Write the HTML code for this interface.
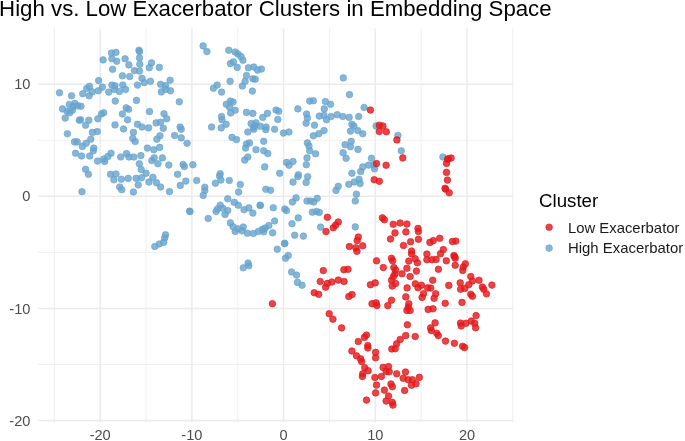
<!DOCTYPE html>
<html><head><meta charset="utf-8"><style>
*{margin:0;padding:0;box-sizing:border-box}
html,body{width:685px;height:441px;background:#fff;overflow:hidden}
body{position:relative;font-family:"Liberation Sans",sans-serif}
svg{position:absolute;left:0;top:0;font-family:"Liberation Sans",sans-serif}
</style></head><body>
<svg width="685" height="441" viewBox="0 0 685 441">
<line x1="54.35" y1="28.4" x2="54.35" y2="422.5" stroke="#EBEBEB" stroke-width="0.8"/><line x1="146.05" y1="28.4" x2="146.05" y2="422.5" stroke="#EBEBEB" stroke-width="0.8"/><line x1="237.75" y1="28.4" x2="237.75" y2="422.5" stroke="#EBEBEB" stroke-width="0.8"/><line x1="329.45" y1="28.4" x2="329.45" y2="422.5" stroke="#EBEBEB" stroke-width="0.8"/><line x1="421.15" y1="28.4" x2="421.15" y2="422.5" stroke="#EBEBEB" stroke-width="0.8"/><line x1="512.85" y1="28.4" x2="512.85" y2="422.5" stroke="#EBEBEB" stroke-width="0.8"/><line x1="38.2" y1="140.24" x2="513.0" y2="140.24" stroke="#EBEBEB" stroke-width="0.8"/><line x1="38.2" y1="252.37" x2="513.0" y2="252.37" stroke="#EBEBEB" stroke-width="0.8"/><line x1="38.2" y1="364.50" x2="513.0" y2="364.50" stroke="#EBEBEB" stroke-width="0.8"/><line x1="100.20" y1="28.4" x2="100.20" y2="422.5" stroke="#EBEBEB" stroke-width="1.5"/><line x1="191.90" y1="28.4" x2="191.90" y2="422.5" stroke="#EBEBEB" stroke-width="1.5"/><line x1="283.60" y1="28.4" x2="283.60" y2="422.5" stroke="#EBEBEB" stroke-width="1.5"/><line x1="375.30" y1="28.4" x2="375.30" y2="422.5" stroke="#EBEBEB" stroke-width="1.5"/><line x1="467.00" y1="28.4" x2="467.00" y2="422.5" stroke="#EBEBEB" stroke-width="1.5"/><line x1="38.2" y1="84.17" x2="513.0" y2="84.17" stroke="#EBEBEB" stroke-width="1.5"/><line x1="38.2" y1="196.30" x2="513.0" y2="196.30" stroke="#EBEBEB" stroke-width="1.5"/><line x1="38.2" y1="308.43" x2="513.0" y2="308.43" stroke="#EBEBEB" stroke-width="1.5"/><line x1="38.2" y1="420.56" x2="513.0" y2="420.56" stroke="#EBEBEB" stroke-width="1.5"/>
<g fill="#66A4CE" fill-opacity="0.8" stroke="#66A4CE" stroke-opacity="0.8" stroke-width="0.8"><circle cx="75.6" cy="153.3" r="3.3"/><circle cx="81.6" cy="156.0" r="3.3"/><circle cx="89.7" cy="156.0" r="3.3"/><circle cx="97.6" cy="161.1" r="3.3"/><circle cx="103.7" cy="159.0" r="3.3"/><circle cx="104.7" cy="161.5" r="3.3"/><circle cx="107.8" cy="156.6" r="3.3"/><circle cx="111.0" cy="153.3" r="3.3"/><circle cx="120.7" cy="157.0" r="3.3"/><circle cx="126.5" cy="153.6" r="3.3"/><circle cx="128.9" cy="157.0" r="3.3"/><circle cx="133.8" cy="157.0" r="3.3"/><circle cx="140.9" cy="155.6" r="3.3"/><circle cx="139.3" cy="163.8" r="3.3"/><circle cx="141.2" cy="169.6" r="3.3"/><circle cx="146.1" cy="173.3" r="3.3"/><circle cx="136.1" cy="178.3" r="3.3"/><circle cx="141.6" cy="177.8" r="3.3"/><circle cx="138.2" cy="184.9" r="3.3"/><circle cx="152.9" cy="177.4" r="3.3"/><circle cx="149.0" cy="182.1" r="3.3"/><circle cx="156.5" cy="182.8" r="3.3"/><circle cx="154.2" cy="157.7" r="3.3"/><circle cx="151.8" cy="160.6" r="3.3"/><circle cx="157.9" cy="163.8" r="3.3"/><circle cx="162.4" cy="157.9" r="3.3"/><circle cx="168.8" cy="165.1" r="3.3"/><circle cx="183.1" cy="164.5" r="3.3"/><circle cx="184.4" cy="166.5" r="3.3"/><circle cx="192.9" cy="164.7" r="3.3"/><circle cx="177.6" cy="174.3" r="3.3"/><circle cx="185.8" cy="181.1" r="3.3"/><circle cx="196.7" cy="180.5" r="3.3"/><circle cx="180.3" cy="185.4" r="3.3"/><circle cx="133.4" cy="192.0" r="3.3"/><circle cx="160.6" cy="187.0" r="3.3"/><circle cx="169.5" cy="191.6" r="3.3"/><circle cx="204.8" cy="187.2" r="3.3"/><circle cx="204.8" cy="190.6" r="3.3"/><circle cx="203.2" cy="195.4" r="3.3"/><circle cx="189.6" cy="211.1" r="3.3"/><circle cx="208.2" cy="218.5" r="3.3"/><circle cx="247.8" cy="157.0" r="3.3"/><circle cx="244.7" cy="160.1" r="3.3"/><circle cx="264.7" cy="166.9" r="3.3"/><circle cx="279.7" cy="173.3" r="3.3"/><circle cx="286.6" cy="162.4" r="3.3"/><circle cx="220.2" cy="173.7" r="3.3"/><circle cx="219.5" cy="176.0" r="3.3"/><circle cx="220.9" cy="180.1" r="3.3"/><circle cx="215.4" cy="183.2" r="3.3"/><circle cx="229.3" cy="180.5" r="3.3"/><circle cx="240.3" cy="184.5" r="3.3"/><circle cx="238.6" cy="192.0" r="3.3"/><circle cx="265.8" cy="189.3" r="3.3"/><circle cx="270.5" cy="190.2" r="3.3"/><circle cx="227.7" cy="198.8" r="3.3"/><circle cx="234.2" cy="202.2" r="3.3"/><circle cx="238.3" cy="205.2" r="3.3"/><circle cx="220.2" cy="205.2" r="3.3"/><circle cx="217.5" cy="209.0" r="3.3"/><circle cx="216.1" cy="211.5" r="3.3"/><circle cx="222.9" cy="208.3" r="3.3"/><circle cx="227.7" cy="210.6" r="3.3"/><circle cx="225.0" cy="214.5" r="3.3"/><circle cx="244.0" cy="209.7" r="3.3"/><circle cx="248.8" cy="207.9" r="3.3"/><circle cx="252.9" cy="213.1" r="3.3"/><circle cx="260.1" cy="205.2" r="3.3"/><circle cx="273.3" cy="207.7" r="3.3"/><circle cx="284.8" cy="209.0" r="3.3"/><circle cx="286.5" cy="210.6" r="3.3"/><circle cx="274.6" cy="221.0" r="3.3"/><circle cx="230.4" cy="222.9" r="3.3"/><circle cx="233.1" cy="226.7" r="3.3"/><circle cx="237.9" cy="228.7" r="3.3"/><circle cx="243.3" cy="227.0" r="3.3"/><circle cx="235.2" cy="231.5" r="3.3"/><circle cx="242.0" cy="230.8" r="3.3"/><circle cx="263.7" cy="231.8" r="3.3"/><circle cx="284.6" cy="243.3" r="3.3"/><circle cx="277.3" cy="249.2" r="3.3"/><circle cx="285.5" cy="258.3" r="3.3"/><circle cx="288.2" cy="255.6" r="3.3"/><circle cx="248.1" cy="263.1" r="3.3"/><circle cx="248.8" cy="265.8" r="3.3"/><circle cx="243.3" cy="267.8" r="3.3"/><circle cx="165.6" cy="234.8" r="3.3"/><circle cx="164.7" cy="237.9" r="3.3"/><circle cx="163.7" cy="242.4" r="3.3"/><circle cx="159.3" cy="244.0" r="3.3"/><circle cx="154.8" cy="246.5" r="3.3"/><circle cx="307.0" cy="157.9" r="3.3"/><circle cx="306.3" cy="164.7" r="3.3"/><circle cx="293.0" cy="161.5" r="3.3"/><circle cx="346.1" cy="158.3" r="3.3"/><circle cx="298.4" cy="174.7" r="3.3"/><circle cx="297.9" cy="176.7" r="3.3"/><circle cx="307.7" cy="176.7" r="3.3"/><circle cx="351.9" cy="173.3" r="3.3"/><circle cx="360.7" cy="171.5" r="3.3"/><circle cx="362.8" cy="166.9" r="3.3"/><circle cx="368.6" cy="165.1" r="3.3"/><circle cx="338.3" cy="186.3" r="3.3"/><circle cx="336.0" cy="190.4" r="3.3"/><circle cx="348.8" cy="184.3" r="3.3"/><circle cx="354.2" cy="182.0" r="3.3"/><circle cx="359.1" cy="179.3" r="3.3"/><circle cx="360.1" cy="183.6" r="3.3"/><circle cx="356.4" cy="194.2" r="3.3"/><circle cx="355.3" cy="201.0" r="3.3"/><circle cx="296.1" cy="197.9" r="3.3"/><circle cx="292.4" cy="202.0" r="3.3"/><circle cx="307.0" cy="201.0" r="3.3"/><circle cx="310.4" cy="201.0" r="3.3"/><circle cx="313.8" cy="202.0" r="3.3"/><circle cx="317.2" cy="198.3" r="3.3"/><circle cx="312.4" cy="212.2" r="3.3"/><circle cx="316.5" cy="211.5" r="3.3"/><circle cx="319.3" cy="212.4" r="3.3"/><circle cx="298.2" cy="217.9" r="3.3"/><circle cx="292.0" cy="223.7" r="3.3"/><circle cx="320.6" cy="227.1" r="3.3"/><circle cx="355.3" cy="226.9" r="3.3"/><circle cx="294.7" cy="235.2" r="3.3"/><circle cx="303.4" cy="236.1" r="3.3"/><circle cx="291.6" cy="272.0" r="3.3"/><circle cx="296.6" cy="275.1" r="3.3"/><circle cx="371.5" cy="158.2" r="3.3"/><circle cx="373.8" cy="165.0" r="3.3"/><circle cx="374.5" cy="168.8" r="3.3"/><circle cx="442.9" cy="157.0" r="3.3"/><circle cx="297.5" cy="282.4" r="3.3"/><circle cx="302.0" cy="285.2" r="3.3"/><circle cx="71.6" cy="95.8" r="3.3"/><circle cx="89.1" cy="95.8" r="3.3"/><circle cx="190.0" cy="211.6" r="3.3"/><circle cx="247.4" cy="233.2" r="3.3"/><circle cx="253.3" cy="233.5" r="3.3"/><circle cx="258.3" cy="231.5" r="3.3"/><circle cx="262.4" cy="229.4" r="3.3"/><circle cx="265.1" cy="228.1" r="3.3"/><circle cx="268.8" cy="225.6" r="3.3"/><circle cx="272.6" cy="232.8" r="3.3"/><circle cx="293.0" cy="182.1" r="3.3"/><circle cx="306.1" cy="182.4" r="3.3"/><circle cx="289.0" cy="165.2" r="3.3"/><circle cx="284.8" cy="243.6" r="3.3"/><circle cx="260.3" cy="205.5" r="3.3"/><circle cx="103.1" cy="59.9" r="3.3"/><circle cx="111.5" cy="53.1" r="3.3"/><circle cx="115.9" cy="52.4" r="3.3"/><circle cx="111.9" cy="58.8" r="3.3"/><circle cx="116.7" cy="61.3" r="3.3"/><circle cx="125.1" cy="58.8" r="3.3"/><circle cx="128.9" cy="64.9" r="3.3"/><circle cx="112.6" cy="69.3" r="3.3"/><circle cx="122.4" cy="75.8" r="3.3"/><circle cx="129.6" cy="76.5" r="3.3"/><circle cx="98.6" cy="80.6" r="3.3"/><circle cx="89.5" cy="86.4" r="3.3"/><circle cx="86.7" cy="88.5" r="3.3"/><circle cx="102.4" cy="87.1" r="3.3"/><circle cx="111.9" cy="85.1" r="3.3"/><circle cx="115.0" cy="85.7" r="3.3"/><circle cx="122.8" cy="85.1" r="3.3"/><circle cx="125.5" cy="89.4" r="3.3"/><circle cx="59.5" cy="92.8" r="3.3"/><circle cx="82.7" cy="93.8" r="3.3"/><circle cx="92.2" cy="91.9" r="3.3"/><circle cx="98.3" cy="90.8" r="3.3"/><circle cx="108.8" cy="92.1" r="3.3"/><circle cx="114.2" cy="89.4" r="3.3"/><circle cx="119.4" cy="91.5" r="3.3"/><circle cx="139.0" cy="50.2" r="3.3"/><circle cx="139.5" cy="51.6" r="3.3"/><circle cx="139.5" cy="57.9" r="3.3"/><circle cx="139.8" cy="64.3" r="3.3"/><circle cx="134.4" cy="70.6" r="3.3"/><circle cx="139.5" cy="71.1" r="3.3"/><circle cx="151.5" cy="62.9" r="3.3"/><circle cx="149.3" cy="67.7" r="3.3"/><circle cx="159.3" cy="67.4" r="3.3"/><circle cx="142.0" cy="78.3" r="3.3"/><circle cx="144.3" cy="82.6" r="3.3"/><circle cx="150.4" cy="81.3" r="3.3"/><circle cx="137.5" cy="85.1" r="3.3"/><circle cx="170.1" cy="80.2" r="3.3"/><circle cx="160.6" cy="84.3" r="3.3"/><circle cx="165.6" cy="85.6" r="3.3"/><circle cx="165.6" cy="89.4" r="3.3"/><circle cx="161.3" cy="91.9" r="3.3"/><circle cx="170.5" cy="90.8" r="3.3"/><circle cx="203.1" cy="45.9" r="3.3"/><circle cx="206.9" cy="51.6" r="3.3"/><circle cx="228.8" cy="50.2" r="3.3"/><circle cx="235.2" cy="52.0" r="3.3"/><circle cx="237.9" cy="54.0" r="3.3"/><circle cx="241.0" cy="56.5" r="3.3"/><circle cx="242.9" cy="60.2" r="3.3"/><circle cx="233.4" cy="61.9" r="3.3"/><circle cx="230.4" cy="63.6" r="3.3"/><circle cx="237.2" cy="67.4" r="3.3"/><circle cx="248.4" cy="67.7" r="3.3"/><circle cx="253.8" cy="67.0" r="3.3"/><circle cx="257.6" cy="70.1" r="3.3"/><circle cx="261.4" cy="69.0" r="3.3"/><circle cx="246.5" cy="75.5" r="3.3"/><circle cx="252.9" cy="78.8" r="3.3"/><circle cx="255.2" cy="79.2" r="3.3"/><circle cx="245.1" cy="81.3" r="3.3"/><circle cx="230.1" cy="81.3" r="3.3"/><circle cx="242.4" cy="86.0" r="3.3"/><circle cx="217.1" cy="85.1" r="3.3"/><circle cx="213.4" cy="88.3" r="3.3"/><circle cx="221.6" cy="92.1" r="3.3"/><circle cx="252.4" cy="91.1" r="3.3"/><circle cx="343.3" cy="77.9" r="3.3"/><circle cx="349.5" cy="94.6" r="3.3"/><circle cx="115.3" cy="101.1" r="3.3"/><circle cx="62.5" cy="108.9" r="3.3"/><circle cx="69.3" cy="104.5" r="3.3"/><circle cx="74.8" cy="103.4" r="3.3"/><circle cx="73.1" cy="106.6" r="3.3"/><circle cx="77.9" cy="105.9" r="3.3"/><circle cx="81.0" cy="106.2" r="3.3"/><circle cx="67.0" cy="111.3" r="3.3"/><circle cx="69.7" cy="112.7" r="3.3"/><circle cx="72.4" cy="110.2" r="3.3"/><circle cx="65.2" cy="118.1" r="3.3"/><circle cx="79.3" cy="120.2" r="3.3"/><circle cx="80.6" cy="119.8" r="3.3"/><circle cx="88.8" cy="120.2" r="3.3"/><circle cx="85.6" cy="125.2" r="3.3"/><circle cx="97.9" cy="118.8" r="3.3"/><circle cx="101.4" cy="114.0" r="3.3"/><circle cx="103.7" cy="112.7" r="3.3"/><circle cx="122.4" cy="114.0" r="3.3"/><circle cx="126.2" cy="107.9" r="3.3"/><circle cx="128.6" cy="109.3" r="3.3"/><circle cx="127.6" cy="119.8" r="3.3"/><circle cx="115.0" cy="124.9" r="3.3"/><circle cx="123.5" cy="129.0" r="3.3"/><circle cx="67.4" cy="133.8" r="3.3"/><circle cx="92.4" cy="132.4" r="3.3"/><circle cx="97.3" cy="131.5" r="3.3"/><circle cx="90.8" cy="139.2" r="3.3"/><circle cx="74.5" cy="141.9" r="3.3"/><circle cx="77.2" cy="141.9" r="3.3"/><circle cx="86.1" cy="143.3" r="3.3"/><circle cx="82.4" cy="146.4" r="3.3"/><circle cx="93.8" cy="148.1" r="3.3"/><circle cx="93.3" cy="150.8" r="3.3"/><circle cx="136.5" cy="100.4" r="3.3"/><circle cx="179.3" cy="101.8" r="3.3"/><circle cx="149.5" cy="111.6" r="3.3"/><circle cx="164.0" cy="113.8" r="3.3"/><circle cx="166.7" cy="118.8" r="3.3"/><circle cx="156.1" cy="122.9" r="3.3"/><circle cx="160.6" cy="122.2" r="3.3"/><circle cx="163.3" cy="128.3" r="3.3"/><circle cx="180.1" cy="127.0" r="3.3"/><circle cx="181.2" cy="129.3" r="3.3"/><circle cx="137.5" cy="124.3" r="3.3"/><circle cx="142.0" cy="127.0" r="3.3"/><circle cx="148.6" cy="127.9" r="3.3"/><circle cx="133.4" cy="132.4" r="3.3"/><circle cx="132.7" cy="138.5" r="3.3"/><circle cx="135.2" cy="141.5" r="3.3"/><circle cx="159.9" cy="135.8" r="3.3"/><circle cx="156.9" cy="139.2" r="3.3"/><circle cx="174.6" cy="135.5" r="3.3"/><circle cx="181.2" cy="137.9" r="3.3"/><circle cx="187.1" cy="143.3" r="3.3"/><circle cx="147.4" cy="148.1" r="3.3"/><circle cx="153.8" cy="149.7" r="3.3"/><circle cx="159.7" cy="147.4" r="3.3"/><circle cx="226.3" cy="104.3" r="3.3"/><circle cx="230.4" cy="101.1" r="3.3"/><circle cx="233.1" cy="102.1" r="3.3"/><circle cx="229.7" cy="107.5" r="3.3"/><circle cx="235.2" cy="110.2" r="3.3"/><circle cx="230.7" cy="113.0" r="3.3"/><circle cx="221.6" cy="116.5" r="3.3"/><circle cx="222.0" cy="119.8" r="3.3"/><circle cx="226.1" cy="124.3" r="3.3"/><circle cx="221.2" cy="127.9" r="3.3"/><circle cx="211.6" cy="127.0" r="3.3"/><circle cx="246.5" cy="112.4" r="3.3"/><circle cx="252.9" cy="113.4" r="3.3"/><circle cx="262.8" cy="117.4" r="3.3"/><circle cx="267.4" cy="113.4" r="3.3"/><circle cx="276.0" cy="110.0" r="3.3"/><circle cx="278.7" cy="111.3" r="3.3"/><circle cx="277.8" cy="119.5" r="3.3"/><circle cx="251.1" cy="123.6" r="3.3"/><circle cx="256.0" cy="122.9" r="3.3"/><circle cx="253.5" cy="127.4" r="3.3"/><circle cx="254.9" cy="125.6" r="3.3"/><circle cx="260.3" cy="126.3" r="3.3"/><circle cx="253.8" cy="129.3" r="3.3"/><circle cx="266.1" cy="127.0" r="3.3"/><circle cx="265.8" cy="129.7" r="3.3"/><circle cx="274.6" cy="129.3" r="3.3"/><circle cx="283.5" cy="133.1" r="3.3"/><circle cx="288.9" cy="132.0" r="3.3"/><circle cx="247.8" cy="132.0" r="3.3"/><circle cx="232.0" cy="137.4" r="3.3"/><circle cx="236.5" cy="139.6" r="3.3"/><circle cx="246.5" cy="144.0" r="3.3"/><circle cx="249.5" cy="142.9" r="3.3"/><circle cx="245.6" cy="148.1" r="3.3"/><circle cx="263.7" cy="141.3" r="3.3"/><circle cx="256.0" cy="149.7" r="3.3"/><circle cx="263.7" cy="150.8" r="3.3"/><circle cx="267.8" cy="153.5" r="3.3"/><circle cx="309.7" cy="101.1" r="3.3"/><circle cx="313.4" cy="100.7" r="3.3"/><circle cx="325.4" cy="101.5" r="3.3"/><circle cx="330.5" cy="104.3" r="3.3"/><circle cx="297.9" cy="108.9" r="3.3"/><circle cx="324.3" cy="108.9" r="3.3"/><circle cx="364.1" cy="107.5" r="3.3"/><circle cx="306.6" cy="114.0" r="3.3"/><circle cx="307.4" cy="118.1" r="3.3"/><circle cx="306.1" cy="123.3" r="3.3"/><circle cx="319.3" cy="116.1" r="3.3"/><circle cx="324.0" cy="115.4" r="3.3"/><circle cx="326.5" cy="119.8" r="3.3"/><circle cx="331.1" cy="116.5" r="3.3"/><circle cx="337.3" cy="114.7" r="3.3"/><circle cx="342.8" cy="116.5" r="3.3"/><circle cx="349.2" cy="117.4" r="3.3"/><circle cx="358.7" cy="116.5" r="3.3"/><circle cx="314.5" cy="125.2" r="3.3"/><circle cx="351.9" cy="124.3" r="3.3"/><circle cx="353.9" cy="126.0" r="3.3"/><circle cx="324.0" cy="130.6" r="3.3"/><circle cx="318.8" cy="133.8" r="3.3"/><circle cx="313.4" cy="135.8" r="3.3"/><circle cx="350.5" cy="131.1" r="3.3"/><circle cx="357.8" cy="130.6" r="3.3"/><circle cx="362.8" cy="133.8" r="3.3"/><circle cx="307.4" cy="142.9" r="3.3"/><circle cx="309.0" cy="146.0" r="3.3"/><circle cx="309.7" cy="150.8" r="3.3"/><circle cx="315.6" cy="153.8" r="3.3"/><circle cx="345.1" cy="144.7" r="3.3"/><circle cx="351.2" cy="141.3" r="3.3"/><circle cx="350.5" cy="146.7" r="3.3"/><circle cx="358.0" cy="149.4" r="3.3"/><circle cx="343.1" cy="152.8" r="3.3"/><circle cx="376.1" cy="126.0" r="3.3"/><circle cx="397.9" cy="135.5" r="3.3"/><circle cx="401.3" cy="150.8" r="3.3"/><circle cx="85.6" cy="169.3" r="3.3"/><circle cx="88.4" cy="174.3" r="3.3"/><circle cx="110.5" cy="174.3" r="3.3"/><circle cx="116.0" cy="174.0" r="3.3"/><circle cx="113.9" cy="179.8" r="3.3"/><circle cx="121.4" cy="179.2" r="3.3"/><circle cx="128.2" cy="178.4" r="3.3"/><circle cx="119.7" cy="187.0" r="3.3"/><circle cx="121.8" cy="189.7" r="3.3"/><circle cx="82.0" cy="191.7" r="3.3"/></g>
<g fill="#E41A1C" fill-opacity="0.82" stroke="#E41A1C" stroke-opacity="0.82" stroke-width="0.8"><circle cx="327.4" cy="217.3" r="3.3"/><circle cx="338.3" cy="222.0" r="3.3"/><circle cx="335.6" cy="225.1" r="3.3"/><circle cx="333.3" cy="227.8" r="3.3"/><circle cx="326.0" cy="231.6" r="3.3"/><circle cx="323.3" cy="270.6" r="3.3"/><circle cx="343.9" cy="269.7" r="3.3"/><circle cx="348.0" cy="269.3" r="3.3"/><circle cx="349.4" cy="246.5" r="3.3"/><circle cx="376.5" cy="163.6" r="3.3"/><circle cx="386.1" cy="165.2" r="3.3"/><circle cx="402.8" cy="157.9" r="3.3"/><circle cx="374.2" cy="179.7" r="3.3"/><circle cx="379.3" cy="181.3" r="3.3"/><circle cx="447.8" cy="159.3" r="3.3"/><circle cx="451.1" cy="158.0" r="3.3"/><circle cx="446.5" cy="163.4" r="3.3"/><circle cx="446.5" cy="172.4" r="3.3"/><circle cx="447.4" cy="180.1" r="3.3"/><circle cx="445.1" cy="188.3" r="3.3"/><circle cx="449.2" cy="192.8" r="3.3"/><circle cx="358.3" cy="237.0" r="3.3"/><circle cx="357.2" cy="240.6" r="3.3"/><circle cx="362.7" cy="245.8" r="3.3"/><circle cx="355.9" cy="247.9" r="3.3"/><circle cx="356.9" cy="251.3" r="3.3"/><circle cx="382.4" cy="217.9" r="3.3"/><circle cx="384.4" cy="219.7" r="3.3"/><circle cx="393.3" cy="224.3" r="3.3"/><circle cx="400.1" cy="223.0" r="3.3"/><circle cx="406.9" cy="224.0" r="3.3"/><circle cx="395.0" cy="232.9" r="3.3"/><circle cx="405.9" cy="231.9" r="3.3"/><circle cx="390.5" cy="239.0" r="3.3"/><circle cx="403.5" cy="245.5" r="3.3"/><circle cx="376.5" cy="260.8" r="3.3"/><circle cx="391.5" cy="258.3" r="3.3"/><circle cx="392.6" cy="260.8" r="3.3"/><circle cx="418.0" cy="228.4" r="3.3"/><circle cx="418.4" cy="231.5" r="3.3"/><circle cx="410.6" cy="241.7" r="3.3"/><circle cx="418.4" cy="239.3" r="3.3"/><circle cx="411.6" cy="251.0" r="3.3"/><circle cx="411.6" cy="254.0" r="3.3"/><circle cx="429.9" cy="242.4" r="3.3"/><circle cx="433.3" cy="240.6" r="3.3"/><circle cx="439.7" cy="238.3" r="3.3"/><circle cx="452.4" cy="241.5" r="3.3"/><circle cx="455.8" cy="241.1" r="3.3"/><circle cx="443.3" cy="249.6" r="3.3"/><circle cx="440.5" cy="253.7" r="3.3"/><circle cx="426.9" cy="254.0" r="3.3"/><circle cx="426.9" cy="259.7" r="3.3"/><circle cx="432.0" cy="259.7" r="3.3"/><circle cx="436.1" cy="259.4" r="3.3"/><circle cx="453.9" cy="255.6" r="3.3"/><circle cx="454.7" cy="256.7" r="3.3"/><circle cx="455.2" cy="258.3" r="3.3"/><circle cx="446.3" cy="260.8" r="3.3"/><circle cx="408.8" cy="261.1" r="3.3"/><circle cx="415.2" cy="258.7" r="3.3"/><circle cx="417.4" cy="262.8" r="3.3"/><circle cx="465.3" cy="263.8" r="3.3"/><circle cx="455.2" cy="265.2" r="3.3"/><circle cx="463.3" cy="267.0" r="3.3"/><circle cx="462.7" cy="270.4" r="3.3"/><circle cx="438.4" cy="269.3" r="3.3"/><circle cx="432.7" cy="280.2" r="3.3"/><circle cx="448.8" cy="285.4" r="3.3"/><circle cx="460.2" cy="282.9" r="3.3"/><circle cx="460.6" cy="289.2" r="3.3"/><circle cx="464.7" cy="288.4" r="3.3"/><circle cx="470.8" cy="276.5" r="3.3"/><circle cx="472.4" cy="281.0" r="3.3"/><circle cx="468.8" cy="284.7" r="3.3"/><circle cx="479.0" cy="280.2" r="3.3"/><circle cx="482.4" cy="287.0" r="3.3"/><circle cx="483.7" cy="289.2" r="3.3"/><circle cx="491.9" cy="285.1" r="3.3"/><circle cx="486.5" cy="293.8" r="3.3"/><circle cx="470.8" cy="294.2" r="3.3"/><circle cx="472.4" cy="296.3" r="3.3"/><circle cx="435.7" cy="293.8" r="3.3"/><circle cx="434.1" cy="298.3" r="3.3"/><circle cx="430.7" cy="288.1" r="3.3"/><circle cx="445.2" cy="303.3" r="3.3"/><circle cx="462.0" cy="302.4" r="3.3"/><circle cx="433.0" cy="308.8" r="3.3"/><circle cx="383.3" cy="267.5" r="3.3"/><circle cx="393.8" cy="267.5" r="3.3"/><circle cx="395.6" cy="270.0" r="3.3"/><circle cx="394.9" cy="274.0" r="3.3"/><circle cx="393.3" cy="276.8" r="3.3"/><circle cx="391.5" cy="280.2" r="3.3"/><circle cx="395.6" cy="283.6" r="3.3"/><circle cx="392.2" cy="286.0" r="3.3"/><circle cx="402.0" cy="273.8" r="3.3"/><circle cx="406.9" cy="268.3" r="3.3"/><circle cx="416.4" cy="271.1" r="3.3"/><circle cx="410.1" cy="276.5" r="3.3"/><circle cx="415.3" cy="283.8" r="3.3"/><circle cx="418.0" cy="287.7" r="3.3"/><circle cx="421.4" cy="285.2" r="3.3"/><circle cx="427.6" cy="287.9" r="3.3"/><circle cx="407.1" cy="287.9" r="3.3"/><circle cx="370.4" cy="284.7" r="3.3"/><circle cx="375.2" cy="282.9" r="3.3"/><circle cx="352.0" cy="294.5" r="3.3"/><circle cx="423.5" cy="293.8" r="3.3"/><circle cx="422.1" cy="297.4" r="3.3"/><circle cx="405.8" cy="296.9" r="3.3"/><circle cx="391.5" cy="300.2" r="3.3"/><circle cx="387.8" cy="305.6" r="3.3"/><circle cx="372.0" cy="303.7" r="3.3"/><circle cx="376.1" cy="302.9" r="3.3"/><circle cx="376.9" cy="305.6" r="3.3"/><circle cx="408.8" cy="303.7" r="3.3"/><circle cx="408.2" cy="307.4" r="3.3"/><circle cx="406.9" cy="310.5" r="3.3"/><circle cx="410.1" cy="310.5" r="3.3"/><circle cx="428.2" cy="309.4" r="3.3"/><circle cx="320.2" cy="281.5" r="3.3"/><circle cx="327.4" cy="283.4" r="3.3"/><circle cx="325.6" cy="287.2" r="3.3"/><circle cx="331.9" cy="282.0" r="3.3"/><circle cx="338.3" cy="280.1" r="3.3"/><circle cx="344.1" cy="281.5" r="3.3"/><circle cx="314.2" cy="292.7" r="3.3"/><circle cx="318.6" cy="294.3" r="3.3"/><circle cx="348.8" cy="296.5" r="3.3"/><circle cx="329.2" cy="313.7" r="3.3"/><circle cx="332.9" cy="319.2" r="3.3"/><circle cx="272.4" cy="303.7" r="3.3"/><circle cx="341.6" cy="327.9" r="3.3"/><circle cx="366.5" cy="335.1" r="3.3"/><circle cx="364.4" cy="337.4" r="3.3"/><circle cx="358.3" cy="341.5" r="3.3"/><circle cx="367.8" cy="345.6" r="3.3"/><circle cx="367.8" cy="347.9" r="3.3"/><circle cx="351.9" cy="351.0" r="3.3"/><circle cx="375.6" cy="352.4" r="3.3"/><circle cx="375.6" cy="357.8" r="3.3"/><circle cx="356.5" cy="355.8" r="3.3"/><circle cx="360.6" cy="358.8" r="3.3"/><circle cx="407.4" cy="324.8" r="3.3"/><circle cx="405.7" cy="335.6" r="3.3"/><circle cx="415.2" cy="336.5" r="3.3"/><circle cx="400.2" cy="339.5" r="3.3"/><circle cx="396.6" cy="343.8" r="3.3"/><circle cx="391.8" cy="349.0" r="3.3"/><circle cx="395.2" cy="348.7" r="3.3"/><circle cx="435.1" cy="322.9" r="3.3"/><circle cx="430.6" cy="327.9" r="3.3"/><circle cx="431.3" cy="330.6" r="3.3"/><circle cx="436.7" cy="333.3" r="3.3"/><circle cx="438.3" cy="335.6" r="3.3"/><circle cx="445.5" cy="341.1" r="3.3"/><circle cx="454.4" cy="343.3" r="3.3"/><circle cx="460.5" cy="323.1" r="3.3"/><circle cx="461.2" cy="325.9" r="3.3"/><circle cx="462.6" cy="346.3" r="3.3"/><circle cx="476.1" cy="315.6" r="3.3"/><circle cx="465.9" cy="323.3" r="3.3"/><circle cx="471.3" cy="321.0" r="3.3"/><circle cx="474.7" cy="323.3" r="3.3"/><circle cx="475.6" cy="327.8" r="3.3"/><circle cx="361.6" cy="361.6" r="3.3"/><circle cx="364.7" cy="367.7" r="3.3"/><circle cx="368.1" cy="370.7" r="3.3"/><circle cx="362.7" cy="373.8" r="3.3"/><circle cx="362.4" cy="376.5" r="3.3"/><circle cx="374.9" cy="377.5" r="3.3"/><circle cx="381.4" cy="376.5" r="3.3"/><circle cx="383.1" cy="367.4" r="3.3"/><circle cx="388.5" cy="366.6" r="3.3"/><circle cx="386.1" cy="371.5" r="3.3"/><circle cx="389.2" cy="371.8" r="3.3"/><circle cx="396.7" cy="373.8" r="3.3"/><circle cx="405.5" cy="372.0" r="3.3"/><circle cx="403.2" cy="378.3" r="3.3"/><circle cx="408.2" cy="379.7" r="3.3"/><circle cx="376.5" cy="385.1" r="3.3"/><circle cx="391.0" cy="384.0" r="3.3"/><circle cx="392.3" cy="386.7" r="3.3"/><circle cx="404.6" cy="390.5" r="3.3"/><circle cx="384.4" cy="390.1" r="3.3"/><circle cx="375.6" cy="392.9" r="3.3"/><circle cx="388.5" cy="396.0" r="3.3"/><circle cx="366.5" cy="400.1" r="3.3"/><circle cx="386.1" cy="401.0" r="3.3"/><circle cx="392.3" cy="402.4" r="3.3"/><circle cx="392.9" cy="405.1" r="3.3"/><circle cx="412.4" cy="379.7" r="3.3"/><circle cx="411.5" cy="385.2" r="3.3"/><circle cx="416.0" cy="383.8" r="3.3"/><circle cx="419.3" cy="377.4" r="3.3"/><circle cx="464.6" cy="347.6" r="3.3"/><circle cx="448.0" cy="158.8" r="3.3"/><circle cx="445.6" cy="189.2" r="3.3"/><circle cx="370.4" cy="110.0" r="3.3"/><circle cx="379.3" cy="125.2" r="3.3"/><circle cx="382.9" cy="126.0" r="3.3"/><circle cx="379.3" cy="131.5" r="3.3"/><circle cx="386.3" cy="131.7" r="3.3"/><circle cx="396.9" cy="139.9" r="3.3"/></g>
<g stroke-width="0.8" fill-opacity="0.8" stroke-opacity="0.8">
<circle cx="549.1" cy="227.2" r="3.3" fill="#E41A1C" stroke="#E41A1C" fill-opacity="0.82" stroke-opacity="0.82"/>
<circle cx="549.1" cy="248.1" r="3.3" fill="#66A4CE" stroke="#66A4CE"/>
</g>
<g style="filter:grayscale(1)">
<text x="-0.9" y="15.75" font-size="21.5" fill="#000" text-anchor="start" textLength="552.5" lengthAdjust="spacingAndGlyphs">High vs. Low Exacerbator Clusters in Embedding Space</text><text x="30.4" y="89.27" font-size="14.6" fill="#4D4D4D" text-anchor="end">10</text><text x="30.4" y="201.40" font-size="14.6" fill="#4D4D4D" text-anchor="end">0</text><text x="30.4" y="313.53" font-size="14.6" fill="#4D4D4D" text-anchor="end">-10</text><text x="30.4" y="425.66" font-size="14.6" fill="#4D4D4D" text-anchor="end">-20</text><text x="100.20" y="439.8" font-size="14.6" fill="#4D4D4D" text-anchor="middle">-20</text><text x="191.90" y="439.8" font-size="14.6" fill="#4D4D4D" text-anchor="middle">-10</text><text x="283.60" y="439.8" font-size="14.6" fill="#4D4D4D" text-anchor="middle">0</text><text x="375.30" y="439.8" font-size="14.6" fill="#4D4D4D" text-anchor="middle">10</text><text x="467.00" y="439.8" font-size="14.6" fill="#4D4D4D" text-anchor="middle">20</text><text x="539" y="206.9" font-size="18" fill="#000" text-anchor="start" textLength="59.2" lengthAdjust="spacingAndGlyphs">Cluster</text><text x="567.9" y="232.8" font-size="14.2" fill="#1A1A1A" text-anchor="start" textLength="111.6" lengthAdjust="spacingAndGlyphs">Low Exacerbator</text><text x="567.9" y="253.0" font-size="14.2" fill="#1A1A1A" text-anchor="start" textLength="115.3" lengthAdjust="spacingAndGlyphs">High Exacerbator</text>
</g>
</svg>
</body></html>
